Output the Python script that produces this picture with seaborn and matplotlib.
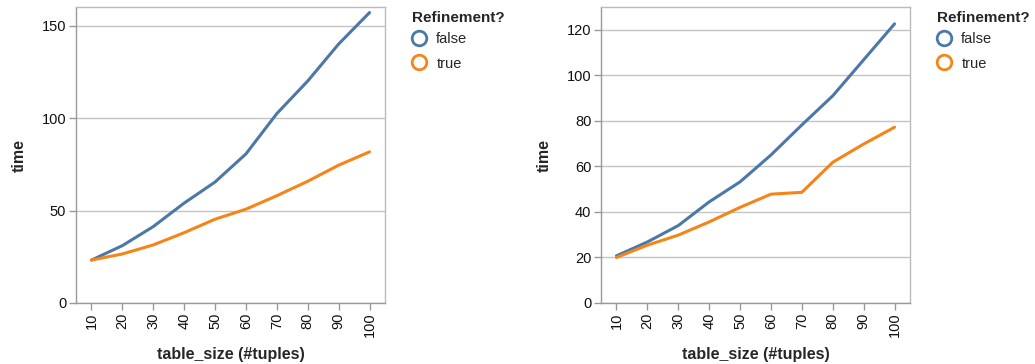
import pandas as pd
import matplotlib
matplotlib.use("Agg")
import matplotlib.pyplot as plt
from matplotlib.lines import Line2D
import seaborn as sns

# values
table_size = [10, 20, 30, 40, 50, 60, 70, 80, 90, 100]
left_false = [23.2, 31, 41.3, 54, 65.4, 80.6, 102.4, 120, 140, 157]
left_true = [23.2, 26.5, 31.4, 38, 45.3, 50.7, 58, 65.8, 74.5, 81.7]
right_false = [20.7, 26.8, 34, 44.4, 53.2, 65, 78.2, 91, 106.8, 122.6]
right_true = [20, 25.4, 29.8, 35.6, 42, 47.8, 48.6, 61.8, 69.8, 77.2]
refine_labels = ["false", "true"]
left_yticks = [0, 50, 100, 150]
right_yticks = [0, 20, 40, 60, 80, 100, 120]

pal = {"false": "#4c78a8", "true": "#f58518"}


def make_df(false_vals, true_vals):
    rows = []
    for lab, vals in zip(refine_labels, [false_vals, true_vals]):
        for x, y in zip(table_size, vals):
            rows.append({"table_size (#tuples)": x, "time": y, "Refinement?": lab})
    return pd.DataFrame(rows)


sns.set_theme(style="white")
plt.rcParams["font.family"] = ["Liberation Sans", "DejaVu Sans"]

fig = plt.figure(figsize=(10.35, 3.64), dpi=100)
W, H = 1035, 364


def draw(left_px, df, ymax, yticks):
    ax = fig.add_axes([left_px / W, 1 - 303 / H, 309 / W, (303 - 7) / H])
    sns.lineplot(data=df, x="table_size (#tuples)", y="time", hue="Refinement?",
                 palette=pal, linewidth=2.2, ax=ax, legend=False)
    ax.set_xlim(5, 105)
    ax.set_ylim(0, ymax)
    ax.set_xticks(table_size)
    ax.set_xticklabels([str(t) for t in table_size], rotation=90)
    ax.set_yticks(yticks)
    ax.grid(axis="y", color="#c4c4c4", linewidth=1)
    ax.set_axisbelow(True)
    for side, s in ax.spines.items():
        s.set_color("#999999" if side in ("left", "bottom") else "#bbbbbb")
        s.set_linewidth(1)
    ax.tick_params(axis="both", direction="out", length=5, width=1, color="#999999",
                   labelsize=10.5, labelcolor="#111111", pad=2, left=True, bottom=True)
    ax.set_xlabel("table_size (#tuples)", fontsize=11.5, fontweight="bold", labelpad=7)
    ax.set_ylabel("time", fontsize=11.5, fontweight="bold", labelpad=11)
    handles = [Line2D([], [], linestyle="none", marker="o", markersize=10.5,
                      markerfacecolor="none", markeredgecolor=pal[k], markeredgewidth=2)
               for k in refine_labels]
    leg = ax.legend(handles, refine_labels, title="Refinement?", loc="upper left",
                    bbox_to_anchor=(1.067, 1.005), frameon=False, fontsize=10.5,
                    handletextpad=0.7, labelspacing=0.7, borderaxespad=0,
                    handlelength=1.0)
    leg.get_title().set_fontweight("bold")
    leg.get_title().set_fontsize(11)
    leg._legend_box.align = "left"
    leg._legend_box.sep = 5
    return ax


draw(76, make_df(left_false, left_true), 160, left_yticks)
draw(601, make_df(right_false, right_true), 130, right_yticks)

fig.savefig("out.png", dpi=100)
